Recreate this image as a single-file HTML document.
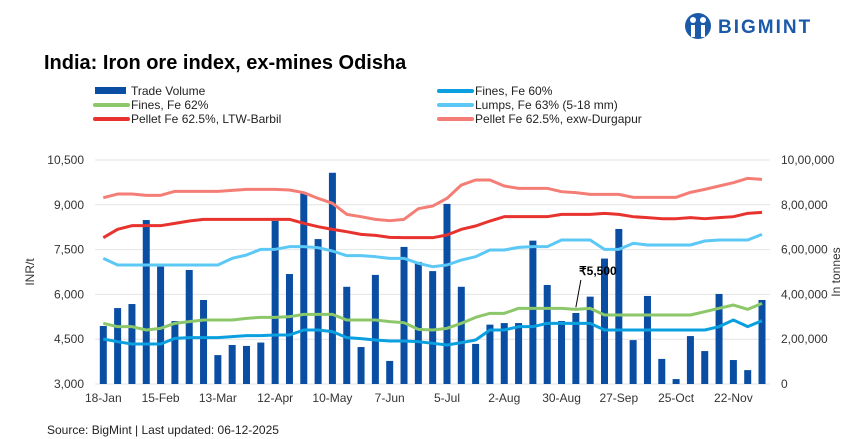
<!DOCTYPE html>
<html><head><meta charset="utf-8"><style>
body{margin:0;background:#fff;font-family:"Liberation Sans",sans-serif;}
#wrap{position:relative;width:862px;height:439px;overflow:hidden;background:#fff;}
</style></head><body>
<div id="wrap">
<svg id="chart" width="862" height="439" xmlns="http://www.w3.org/2000/svg">
<g>
<circle cx="698" cy="26" r="13" fill="#1a5aa8"/>
<circle cx="693" cy="20" r="3" fill="#fff"/><circle cx="703" cy="20" r="3" fill="#fff"/>
<rect x="691" y="25" width="4" height="12" fill="#fff"/><rect x="701" y="25" width="4" height="12" fill="#fff"/>
<text x="718" y="33" font-size="19" font-weight="bold" fill="#1a5aa8" letter-spacing="2">BIGMINT</text>
</g>
<text x="44" y="69" font-size="20" font-weight="bold" fill="#000">India: Iron ore index, ex-mines Odisha</text>
<g id="legend" font-size="12" fill="#222"></g>
<g id="grid"></g><g id="bars"></g><g id="lines"></g><g id="axes" font-size="12" fill="#333"></g>
<text transform="translate(34,272) rotate(-90)" text-anchor="middle" font-size="12" fill="#333">INR/t</text>
<text transform="translate(840,272) rotate(-90)" text-anchor="middle" font-size="12" fill="#333">In tonnes</text>
<text x="47" y="434" font-size="12" fill="#222">Source: BigMint | Last updated: 06-12-2025</text>
</svg>
</div>
<script>
const xLabels=["18-Jan","15-Feb","13-Mar","12-Apr","10-May","7-Jun","5-Jul","2-Aug","30-Aug","27-Sep","25-Oct","22-Nov"];
const leftTicks=[3000,4500,6000,7500,9000,10500];
const rightTicks=[0,200000,400000,600000,800000,1000000];
const rightTickLabels=["0","2,00,000","4,00,000","6,00,000","8,00,000","10,00,000"];
const volume=[259000,339000,357000,732000,524000,281000,509000,375000,129000,174000,170000,185000,728000,491000,851000,647000,943000,434000,165000,487000,103000,612000,545000,504000,804000,434000,179000,265000,272000,272000,640000,442000,281000,317000,390000,560000,692000,196000,393000,112000,22000,214000,147000,402000,107000,62000,375000];
const durgapur=[9238,9361,9361,9317,9317,9450,9450,9450,9450,9484,9517,9517,9517,9495,9406,9216,9049,8680,8602,8513,8468,8513,8870,8959,9216,9662,9830,9830,9629,9551,9551,9551,9439,9406,9350,9350,9350,9250,9250,9250,9250,9417,9517,9629,9741,9886,9852];
const barbil=[7899,8178,8301,8301,8301,8379,8457,8513,8513,8513,8513,8513,8513,8513,8379,8268,8178,8100,8011,7977,7910,7899,7899,7899,7988,8178,8290,8457,8602,8602,8602,8602,8680,8680,8680,8714,8680,8602,8569,8535,8535,8569,8535,8569,8602,8714,8747];
const lumps=[7207,6984,6984,6984,6984,6984,6984,6984,6984,7207,7319,7509,7509,7598,7598,7564,7453,7297,7297,7263,7207,7207,7040,6928,6984,7151,7263,7486,7486,7575,7598,7598,7821,7821,7821,7509,7509,7710,7654,7654,7654,7654,7788,7821,7821,7821,8011];
const fe62=[5031,4920,4920,4808,4864,5031,5087,5143,5143,5143,5199,5232,5232,5254,5332,5332,5332,5143,5143,5143,5087,5053,4830,4808,4864,5031,5232,5366,5366,5533,5533,5533,5533,5500,5533,5310,5310,5310,5310,5310,5310,5310,5422,5533,5645,5500,5701];
const fe60=[4507,4417,4339,4339,4339,4529,4551,4551,4551,4585,4618,4618,4641,4641,4808,4808,4752,4551,4518,4473,4440,4440,4417,4362,4306,4384,4473,4808,4808,4920,4920,5031,5031,5031,5031,4808,4808,4808,4808,4808,4808,4808,4808,4920,5143,4920,5120];
const NS="http://www.w3.org/2000/svg";
const X0=103.3,STEP=14.32,YB=384,H=224;
const x=i=>X0+i*STEP;
const yL=v=>YB-(v-3000)/7500*H;
const yR=v=>YB-v/1000000*H;
function mk(tag,attrs,parent){const e=document.createElementNS(NS,tag);for(const k in attrs)e.setAttribute(k,attrs[k]);parent.appendChild(e);return e;}
const grid=document.getElementById('grid'),bars=document.getElementById('bars'),lines=document.getElementById('lines'),axes=document.getElementById('axes'),legend=document.getElementById('legend');
leftTicks.forEach((t,i)=>{
 const g=mk('line',{x1:95,x2:770,y1:yL(t),y2:yL(t),stroke:'#e4e4e4','stroke-width':1},grid);
 
 
 const lt=mk('text',{x:84,y:yL(t)+4,'text-anchor':'end'},axes);lt.textContent=t.toLocaleString('en-US');
 
 
});
rightTicks.forEach((t,i)=>{
 const rt=mk('text',{x:781,y:yR(t)+4},axes);rt.textContent=rightTickLabels[i];
 
 
});
xLabels.forEach((l,i)=>{
 const xt=mk('text',{x:x(i*4),y:402,'text-anchor':'middle'},axes);xt.textContent=l;
 
 
});
volume.forEach((v,i)=>{
 const r=mk('rect',{x:x(i)-3.5,y:yR(v),width:7,height:YB-yR(v),fill:'#0a4ea3'},bars);
 
 
});
const series=[[fe60,'#0aa0e0','fines-fe60-line'],[fe62,'#8cc76a','fines-fe62-line'],[lumps,'#5bc8f5','lumps-fe63-line'],[barbil,'#e8322e','pellet-barbil-line'],[durgapur,'#f47e75','pellet-durgapur-line']];
series.forEach(([d,c,n])=>{
 const p=mk('polyline',{points:d.map((v,i)=>x(i)+','+yL(v)).join(' '),fill:'none',stroke:c,'stroke-width':3,'stroke-linejoin':'round'},lines);
 
 
});
const ai=33;
const an=mk('line',{x1:x(ai),y1:yL(fe62[ai])-2,x2:x(ai)+5,y2:280},lines);an.setAttribute('stroke','#000');


const at=mk('text',{x:x(ai)+22,y:275,'text-anchor':'middle','font-size':12,'font-weight':'bold',fill:'#000'},lines);at.textContent='₹5,500';


const leg=[['Trade Volume','#0a4ea3',95,91,true],['Fines, Fe 62%','#8cc76a',95,105],['Pellet Fe 62.5%, LTW-Barbil','#e8322e',95,119],['Fines, Fe 60%','#0aa0e0',439,91],['Lumps, Fe 63% (5-18 mm)','#5bc8f5',439,105],['Pellet Fe  62.5%, exw-Durgapur','#f47e75',439,119]];
leg.forEach(([t,c,lx,ly,b])=>{
 const s=b?mk('rect',{x:lx,y:ly-4,width:31,height:7,fill:c},legend):mk('line',{x1:lx,x2:lx+33,y1:ly,y2:ly,stroke:c,'stroke-width':4,'stroke-linecap':'round'},legend);
 
 
 const tx=mk('text',{x:lx+36,y:ly+4},legend);tx.textContent=t;tx.setAttribute('xml:space','preserve');
 
 
});
</script>
</body></html>
